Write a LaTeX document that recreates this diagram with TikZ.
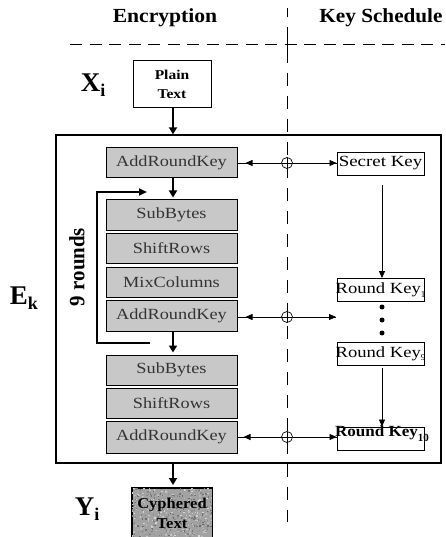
\documentclass[tikz,border=0pt]{standalone}
\usepackage{fontspec}
\setmainfont{Liberation Serif}
\usetikzlibrary{arrows.meta,calc}
\definecolor{boxgray}{HTML}{C8C8C8}
\definecolor{boxtext}{HTML}{333333}
\definecolor{cygray}{HTML}{A2A2A2}
\newcommand{\wide}[2]{\scalebox{#1}[1]{#2}}
\begin{document}
\begin{tikzpicture}[x=1pt,y=-1pt,
  bigtip/.style={-{Triangle[length=7pt,width=8pt]}, line width=1.8pt},
  tipS/.style={-{Triangle[length=7pt,width=6pt]}, line width=0.8pt},
  thinline/.style={line width=0.8pt},
  opbox/.style={draw, line width=1pt, fill=boxgray, minimum width=131pt, minimum height=30pt, inner sep=0pt, text=boxtext, font=\fontsize{15.5}{15.5}\selectfont},
  keybox/.style={draw, line width=0.9pt, fill=white, minimum width=87pt, minimum height=23pt, inner sep=0pt, font=\fontsize{15.5}{15.5}\selectfont},
  xor/.style={circle, draw, line width=0.7pt, fill=white, minimum size=11pt, inner sep=0pt,
     path picture={\draw[line width=0.7pt] (path picture bounding box.north) -- (path picture bounding box.south)
       (path picture bounding box.west) -- (path picture bounding box.east);}},
  head/.style={font=\fontsize{20}{20}\selectfont\bfseries},
  bigsym/.style={font=\fontsize{27}{27}\selectfont\bfseries, inner sep=0pt},
  kdot/.style={circle, fill=black, minimum size=5pt, inner sep=0pt}
]
\useasboundingbox (0,0) rectangle (445,537);

% headers
\node[head] (enc) at (165,18) {\wide{1.08}{Encryption}};
\node[head] (ks) at (381,18) {\wide{1.06}{Key Schedule}};

% separators
\draw[line width=1pt, dash pattern=on 12pt off 7.5pt] (70,45) -- (445,45);
\draw[line width=1pt, dash pattern=on 13pt off 10pt, dash phase=4pt] (287,8) -- (287,522);
\draw[line width=1pt] (287,36) -- (287,54);

% input
\node[bigsym] (xi) at (93,85) {X\raisebox{-0.45ex}{\fontsize{18}{18}\selectfont i}};
\node[draw, line width=1pt, minimum width=78pt, minimum height=47pt, inner sep=0pt, align=center,
      font=\fontsize{13.5}{19}\selectfont\bfseries] (plain) at (172,84.5) {\wide{1.15}{Plain}\\\wide{1.15}{Text}};

% main box
\node[draw, line width=1.3pt, minimum width=385pt, minimum height=328pt, inner sep=0pt] (main) at (248.5,299) {};
\node[bigsym] (ek) at (24,298) {E\raisebox{-0.45ex}{\fontsize{18}{18}\selectfont k}};

% operation boxes
\node[opbox] (ark1) at (171.5,163) {\wide{1.18}{AddRoundKey}};
\node[opbox] (sb1) at (171.5,215) {\wide{1.18}{SubBytes}};
\node[opbox] (sr1) at (171.5,248) {\wide{1.18}{ShiftRows}};
\node[opbox] (mc) at (171.5,282) {\wide{1.18}{MixColumns}};
\node[opbox, minimum height=31pt] (ark2) at (171.5,315.5) {\wide{1.18}{AddRoundKey}};
\node[opbox] (sb2) at (171.5,370) {\wide{1.18}{SubBytes}};
\node[opbox] (sr2) at (171.5,403) {\wide{1.18}{ShiftRows}};
\node[opbox, minimum height=32pt] (ark3) at (171.5,437) {\wide{1.18}{AddRoundKey}};

% vertical flow arrows
\draw[bigtip] (plain.south -| 173,0) -- (main.north -| 173,0);
\draw[bigtip] (ark1.south -| 173,0) -- ($(sb1.north -| 173,0)+(0,-2)$);
\draw[bigtip] (ark2.south -| 173,0) -- ($(sb2.north -| 173,0)+(0,-2)$);
\draw[bigtip] (main.south -| 173,0) -- (173,485);

% loop bracket
\coordinate (lpTop) at (147,192);
\coordinate (lpBot) at (150,343);
\draw[line width=2pt, -{Triangle[length=8pt,width=7pt]}] (lpBot) -- (97,343) -- (97,192) -- (lpTop);
\node[font=\fontsize{19}{19}\selectfont\bfseries, rotate=90] (nr) at (77,267) {\scalebox{1.1}[1.15]{9 rounds}};

% output
\node[draw, line width=1pt, fill=cygray, minimum width=80pt, minimum height=49pt, inner sep=0pt] (cy) at (172,512.5) {};
\begin{scope}
\clip (cy.south west) rectangle (cy.north east);
\pgfmathsetseed{11}
\foreach \i in {1,...,650}{
  \pgfmathsetmacro{\rx}{172+41*rand}
  \pgfmathsetmacro{\ry}{512.5+25*rand}
  \pgfmathtruncatemacro{\g}{15+45*rnd}
  \fill[black!\g] (\rx,\ry) rectangle ++(1.4,1.4);
}
\end{scope}
\draw[line width=1pt] (cy.north west) rectangle (cy.south east);
\node[align=center, font=\fontsize{15}{20}\selectfont\bfseries, text=black] (cytext) at ($(cy)+(0,1)$) {\wide{1.1}{Cyphered}\\\wide{1.1}{Text}};
\node[bigsym] (yi) at (87,509) {Y\raisebox{-0.45ex}{\fontsize{18}{18}\selectfont i}};

% key schedule
\node[keybox] (sk) at (380.5,163.5) {\wide{1.22}{Secret Key}};
\node[keybox] (rk1) at (380.5,290) {\makebox[0pt]{\wide{1.2}{Round Key}\raisebox{-0.5ex}{\fontsize{9}{9}\selectfont 1}}};
\node[kdot] (d1) at (382,307) {};
\node[kdot] (d2) at (382,320) {};
\node[kdot] (d3) at (382,333) {};
\node[keybox] (rk9) at (380.5,353.5) {\makebox[0pt]{\wide{1.2}{Round Key}\raisebox{-0.5ex}{\fontsize{9}{9}\selectfont 9}}};
\node[keybox, minimum height=23pt] (rk10) at (380.5,438.5) {};
\node[font=\fontsize{15.5}{15.5}\selectfont\bfseries, inner sep=0pt] (rk10t) at (382,434) {\makebox[0pt]{\wide{1.1}{Round Key}\raisebox{-0.7ex}{\fontsize{11}{11}\selectfont 10}}};

\draw[tipS] ($(sk.south)+(1.5,10)$) -- ($(rk1.north)+(1.5,0)$);
\draw[tipS] ($(rk9.south)+(1.5,3)$) -- ($(rk10.north)+(1.5,0)$);

% XOR rows
\coordinate (x1) at (287,163);
\coordinate (x2) at (287,317);
\coordinate (x3) at (287,437);
\coordinate (r2end) at (336,317);

\draw[thinline] (ark1.east |- x1) -- (sk.west |- x1);
\draw[tipS] (x1) -- ($(ark1.east |- x1)+(8,0)$);
\draw[tipS] (x1) -- (sk.west |- x1);

\draw[thinline] (ark2.east |- x2) -- (r2end);
\draw[tipS] (x2) -- ($(ark2.east |- x2)+(8,0)$);
\draw[tipS] (x2) -- (r2end);

\draw[thinline] (ark3.east |- x3) -- (rk10.west |- x3);
\draw[tipS] (x3) -- ($(ark3.east |- x3)+(6,0)$);
\draw[tipS] (x3) -- (rk10.west |- x3);

\node[xor] (xo1) at (x1) {};
\node[xor] (xo2) at (x2) {};
\node[xor] (xo3) at (x3) {};
\end{tikzpicture}
\end{document}
